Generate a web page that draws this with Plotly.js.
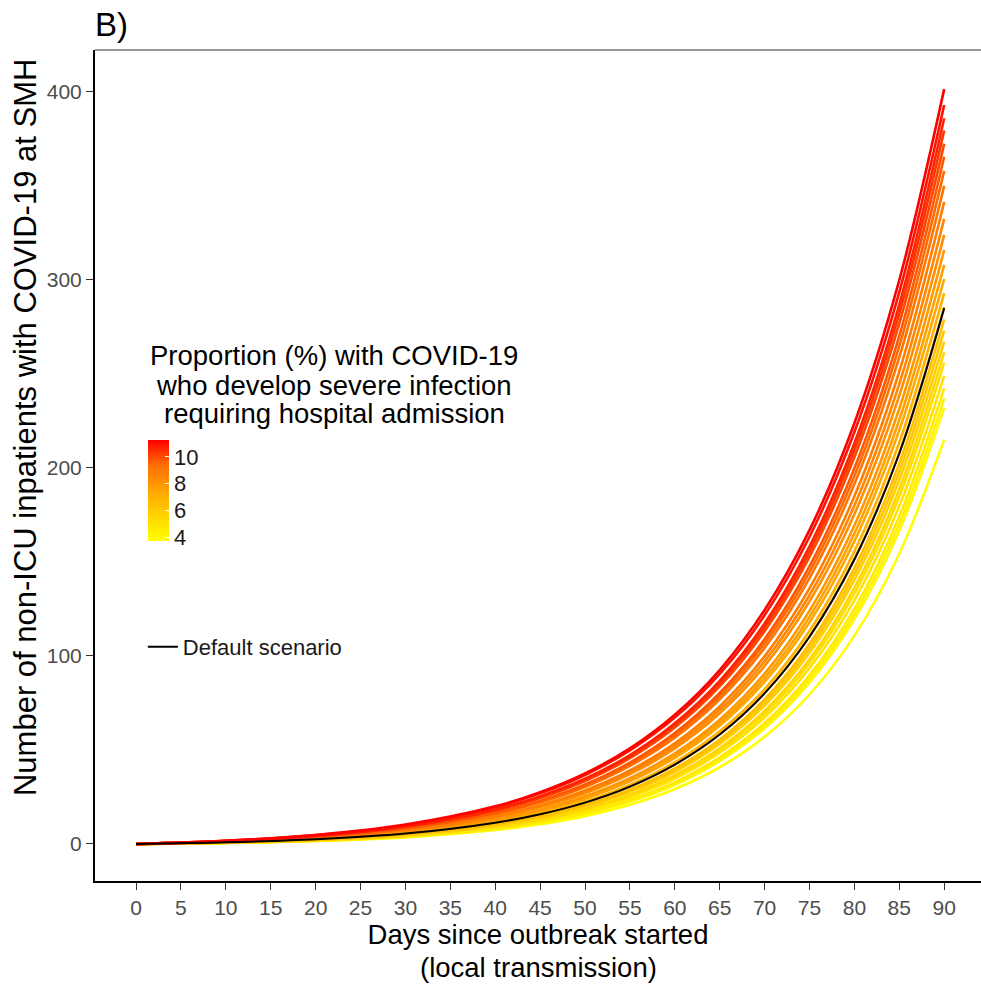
<!DOCTYPE html>
<html>
<head>
<meta charset="utf-8">
<script src="https://cdn.plot.ly/plotly-3.0.1.min.js"></script>
<style>
  html, body { margin: 0; padding: 0; background: #ffffff; }
  #chart { width: 981px; height: 984px; }
</style>
</head>
<body>
<div id="chart"></div>
<script>
// Days since the outbreak started (local transmission)
const days = [0, 10, 20, 30, 40, 45, 50, 55, 60, 65, 70, 75, 80, 85, 90];

// Proportion (%) of COVID-19 cases needing hospital admission, one per scenario
const pct = [3.75, 4.05, 4.35, 4.65, 4.95, 5.25, 5.55, 5.85, 6.15, 6.45, 6.75, 7.05, 7.35,
             7.65, 7.95, 8.25, 8.55, 8.85, 9.15, 9.45, 9.75, 10.05, 10.35, 10.65, 10.95, 11.25];

// Non-ICU inpatients with COVID-19 at SMH, one row per scenario (same order as pct)
const inpatients = [
  [0, 0.5, 1.6, 3.5, 7.4, 10.5, 14.8, 20.8, 29.2, 40.8, 57.0, 79.5, 110.8, 154.4, 215],
  [0, 0.6, 1.7, 3.8, 8.0, 11.3, 16.0, 22.5, 31.5, 44.1, 61.5, 85.8, 119.6, 166.6, 232],
  [0, 0.6, 1.7, 3.9, 8.1, 11.6, 16.3, 23.0, 32.2, 45.0, 62.9, 87.7, 122.2, 170.2, 237],
  [0, 0.6, 1.8, 4.0, 8.3, 11.8, 16.7, 23.5, 32.9, 46.1, 64.3, 89.7, 125.0, 174.2, 242.5],
  [0, 0.7, 1.9, 4.3, 9.0, 12.7, 17.8, 25.0, 34.8, 48.5, 67.3, 93.5, 129.6, 179.7, 249],
  [0, 0.7, 2.0, 4.5, 9.2, 13.0, 18.3, 25.7, 35.8, 49.8, 69.2, 96.1, 133.3, 184.8, 256],
  [0, 0.7, 2.0, 4.6, 9.4, 13.3, 18.7, 26.2, 36.6, 50.9, 70.7, 98.2, 136.2, 188.7, 261.5],
  [0, 0.8, 2.2, 4.9, 10.1, 14.2, 19.9, 27.7, 38.4, 53.2, 73.6, 101.7, 140.4, 193.6, 267],
  [0, 0.8, 2.2, 5.0, 10.3, 14.5, 20.3, 28.3, 39.3, 54.4, 75.3, 104.0, 143.5, 198.0, 273],
  [0, 0.8, 2.3, 5.1, 10.5, 14.8, 20.8, 28.9, 40.2, 55.6, 76.9, 106.3, 146.7, 202.4, 279],
  [0, 0.9, 2.5, 5.6, 11.3, 15.8, 22.1, 30.6, 42.3, 58.3, 80.3, 110.4, 151.6, 208.1, 285.5],
  [0, 0.9, 2.6, 5.7, 11.6, 16.3, 22.6, 31.4, 43.4, 59.9, 82.4, 113.3, 155.6, 213.6, 293],
  [0, 1.0, 2.8, 6.2, 12.5, 17.4, 24.1, 33.3, 45.8, 62.9, 86.2, 117.9, 161.1, 220.1, 300.5],
  [0, 1.0, 2.9, 6.3, 12.8, 17.8, 24.7, 34.1, 47.0, 64.5, 88.3, 120.8, 165.1, 225.6, 308],
  [0, 1.0, 2.9, 6.5, 13.1, 18.3, 25.4, 35.0, 48.2, 66.1, 90.6, 124.0, 169.4, 231.5, 316],
  [0, 1.1, 3.2, 7.0, 14.1, 19.6, 27.0, 37.1, 50.8, 69.5, 94.7, 129.0, 175.4, 238.5, 324],
  [0, 1.2, 3.3, 7.2, 14.4, 20.1, 27.7, 38.1, 52.2, 71.3, 97.2, 132.3, 180.0, 244.7, 332.5],
  [0, 1.2, 3.4, 7.4, 14.8, 20.6, 28.5, 39.1, 53.6, 73.2, 99.8, 135.9, 184.9, 251.3, 341.5],
  [0, 1.3, 3.7, 8.0, 15.9, 22.0, 30.3, 41.5, 56.5, 76.9, 104.3, 141.4, 191.4, 258.9, 350],
  [0, 1.3, 3.8, 8.2, 16.3, 22.5, 31.0, 42.4, 57.8, 78.6, 106.7, 144.6, 195.7, 264.8, 358],
  [0, 1.4, 3.8, 8.4, 16.6, 23.0, 31.6, 43.3, 59.0, 80.3, 108.9, 147.6, 199.8, 270.3, 365.5],
  [0, 1.5, 4.2, 9.0, 17.7, 24.5, 33.5, 45.6, 61.9, 83.8, 113.2, 152.7, 205.7, 276.9, 372.5],
  [0, 1.5, 4.2, 9.2, 18.1, 24.9, 34.1, 46.5, 63.1, 85.4, 115.3, 155.5, 209.5, 282.1, 379.5],
  [0, 1.5, 4.3, 9.3, 18.4, 25.4, 34.7, 47.3, 64.2, 86.8, 117.3, 158.2, 213.1, 286.9, 386],
  [0, 1.7, 4.7, 10.0, 19.6, 26.9, 36.7, 49.8, 67.2, 90.5, 121.7, 163.4, 219.1, 293.5, 393],
  [0, 1.7, 4.8, 10.3, 20.0, 27.5, 37.5, 50.8, 68.7, 92.5, 124.4, 166.9, 223.8, 299.9, 401.5]
];

// Default scenario
const defaultInpatients = [0, 0.9, 2.5, 5.5, 11.3, 15.8, 22.0, 30.5, 42.2, 58.2, 80.1, 110.2, 151.3, 207.7, 285];

const xTicks = [0, 5, 10, 15, 20, 25, 30, 35, 40, 45, 50, 55, 60, 65, 70, 75, 80, 85, 90];
const yTicks = [0, 100, 200, 300, 400];
const barTicks = [4, 6, 8, 10];

// Yellow-to-red gradient used for both the lines and the colour bar
const gradient = [
  [0.00, [255, 255, 0]],
  [0.25, [255, 212, 0]],
  [0.50, [255, 164, 0]],
  [0.75, [255, 110, 0]],
  [1.00, [255, 0, 0]]
];
const pMin = 3.75, pMax = 11.25;

function rgb(c) { return 'rgb(' + c.map(Math.round).join(',') + ')'; }
function colourFor(p) {
  const f = Math.min(1, Math.max(0, (p - pMin) / (pMax - pMin)));
  for (let i = 1; i < gradient.length; i++) {
    const [f1, c1] = gradient[i];
    const [f0, c0] = gradient[i - 1];
    if (f <= f1) {
      const u = (f - f0) / (f1 - f0);
      return rgb(c0.map((v, k) => v + u * (c1[k] - v)));
    }
  }
  return rgb(gradient[gradient.length - 1][1]);
}

const FONT = 'Liberation Sans, Arial, Helvetica, sans-serif';

const traces = inpatients.map((vals, i) => ({
  type: 'scatter',
  mode: 'lines',
  x: days,
  y: vals,
  line: { color: colourFor(pct[i]), width: 2.6, shape: 'spline', smoothing: 1 },
  showlegend: false,
  hoverinfo: 'skip'
}));

traces.push({
  type: 'scatter',
  mode: 'lines',
  x: days,
  y: defaultInpatients,
  name: 'Default scenario',
  line: { color: '#000000', width: 2, shape: 'spline', smoothing: 1 },
  showlegend: true
});

// Colour bar for the admission proportion
traces.push({
  type: 'scatter',
  mode: 'markers',
  x: pct.map(() => null),
  y: pct.map(() => null),
  showlegend: false,
  hoverinfo: 'skip',
  marker: {
    color: pct,
    cmin: pMin,
    cmax: pMax,
    colorscale: gradient.map(([f, c]) => [f, rgb(c)]),
    showscale: true,
    colorbar: {
      x: 0.0598, xanchor: 'left',
      y: 0.5307, yanchor: 'top',
      len: 101, lenmode: 'pixels',
      thickness: 21, thicknessmode: 'pixels',
      outlinewidth: 0, borderwidth: 0,
      xpad: 0, ypad: 0,
      tickvals: barTicks,
      ticktext: barTicks.map(String),
      ticks: 'inside', tickcolor: '#ffffff', ticklen: 4, tickwidth: 1,
      tickfont: { family: FONT, size: 22, color: '#1a1a1a' }
    }
  }
});

const legendTitle = [
  'Proportion (%) with COVID-19',
  'who develop severe infection',
  'requiring hospital admission'
];
const legendTitleY = [0.6318, 0.5957, 0.5620];

const layout = {
  width: 981,
  height: 984,
  margin: { l: 95, r: 0, t: 50, b: 103 },
  paper_bgcolor: '#ffffff',
  plot_bgcolor: '#ffffff',
  font: { family: FONT, color: '#000000' },
  title: {
    text: 'B)',
    font: { family: FONT, size: 33, color: '#000000' },
    x: 95 / 981, xref: 'container', xanchor: 'left',
    y: 1 - 24 / 984, yref: 'container', yanchor: 'middle'
  },
  xaxis: {
    range: [-4.57, 94.1],
    tickvals: xTicks,
    ticktext: xTicks.map(String),
    ticks: 'outside', ticklen: 7, tickwidth: 1.3, tickcolor: '#333333',
    tickfont: { family: FONT, size: 21, color: '#4d4d4d' },
    showline: true, linecolor: '#000000', linewidth: 2,
    showgrid: false, zeroline: false,
    title: {
      text: 'Days since outbreak started',
      font: { family: FONT, size: 27.5, color: '#000000' },
      standoff: 6
    }
  },
  yaxis: {
    range: [-19.7, 422.3],
    tickvals: yTicks,
    ticktext: yTicks.map(String),
    ticks: 'outside', ticklen: 7, tickwidth: 1.3, tickcolor: '#333333',
    tickfont: { family: FONT, size: 21, color: '#4d4d4d' },
    showline: true, linecolor: '#000000', linewidth: 2,
    showgrid: false, zeroline: false
  },
  legend: {
    x: 0.054, xanchor: 'left',
    y: 0.2816, yanchor: 'middle',
    bgcolor: 'rgba(0,0,0,0)',
    borderwidth: 0,
    font: { family: FONT, size: 22, color: '#1a1a1a' }
  },
  shapes: [
    { type: 'line', xref: 'paper', yref: 'paper', x0: 0, x1: 1, y0: 1, y1: 1,
      line: { color: '#333333', width: 1.2 } }
  ],
  annotations: legendTitle.map((t, i) => ({
    text: t, xref: 'paper', yref: 'paper',
    x: 0.2703, y: legendTitleY[i], xanchor: 'center', yanchor: 'middle',
    showarrow: false,
    font: { family: FONT, size: 27.5, color: '#000000' }
  })).concat([
    {
      text: '(local transmission)', xref: 'paper', yref: 'paper',
      x: 0.5, y: 0, yshift: -86, xanchor: 'center', yanchor: 'middle',
      showarrow: false,
      font: { family: FONT, size: 27.5, color: '#000000' }
    },
    {
      // y-axis title
      text: 'Number of non-ICU inpatients with COVID-19 at SMH',
      xref: 'paper', yref: 'paper',
      x: -0.079, y: 0.5451, xanchor: 'center', yanchor: 'middle',
      textangle: -90, showarrow: false,
      font: { family: FONT, size: 31, color: '#000000' }
    }
  ])
};

Plotly.newPlot('chart', traces, layout, { displayModeBar: false, responsive: false });
</script>
</body>
</html>
